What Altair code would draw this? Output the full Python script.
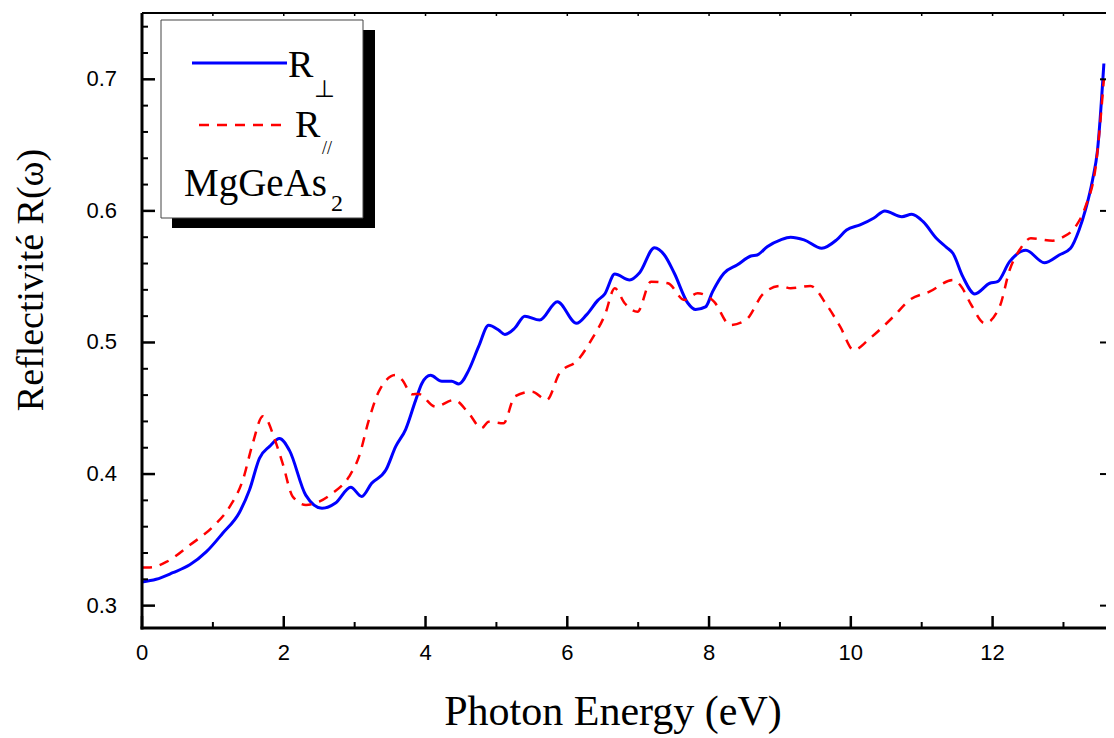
import altair as alt
import pandas as pd

# ---------------- data ----------------
E_perp = [0.0, 0.2, 0.435, 0.674, 0.909, 1.138, 1.376, 1.517, 1.657, 1.80, 1.94, 2.08, 2.31, 2.54, 2.73,
          2.945, 3.10, 3.24, 3.44, 3.58, 3.72, 3.86, 3.95, 4.07, 4.23, 4.37, 4.47, 4.61, 4.75, 4.89,
          5.03, 5.12, 5.26, 5.40, 5.61, 5.86, 6.13, 6.27, 6.43, 6.53, 6.67, 6.88, 7.02, 7.23, 7.37,
          7.51, 7.70, 7.81, 7.95, 8.05, 8.21, 8.40, 8.59, 8.68, 8.82, 9.01, 9.15, 9.34, 9.59, 9.80,
          9.94, 10.13, 10.32, 10.48, 10.72, 10.86, 11.02, 11.21, 11.35, 11.44, 11.58, 11.75, 11.96, 12.07, 12.24,
          12.47, 12.73, 12.94, 13.10, 13.22, 13.31, 13.41, 13.48, 13.57]
R_perp = [0.318, 0.320, 0.325, 0.331, 0.341, 0.355, 0.371, 0.388, 0.412, 0.421, 0.427, 0.418, 0.384, 0.374, 0.378,
          0.390, 0.383, 0.393, 0.403, 0.421, 0.434, 0.456, 0.469, 0.475, 0.4705, 0.4705, 0.4685, 0.479, 0.497, 0.513,
          0.5095, 0.506, 0.511, 0.520, 0.517, 0.531, 0.5146, 0.521, 0.532, 0.537, 0.552, 0.5475, 0.553, 0.572, 0.5665,
          0.5526, 0.530, 0.525, 0.527, 0.5386, 0.5526, 0.559, 0.5657, 0.5665, 0.5728, 0.578, 0.580, 0.578, 0.5716, 0.578,
          0.5855, 0.5893, 0.5944, 0.600, 0.5956, 0.5974, 0.5918, 0.579, 0.5723, 0.5678, 0.550, 0.5369, 0.545, 0.5462, 0.5614,
          0.570, 0.5606, 0.5665, 0.5716, 0.5855, 0.6007, 0.6235, 0.646, 0.712]

E_par = [0.0, 0.11, 0.35, 0.674, 1.0, 1.236, 1.423, 1.563, 1.704, 1.75, 1.868, 1.985, 2.125, 2.313, 2.5,
         2.687, 2.921, 3.06, 3.2, 3.34, 3.577, 3.67, 3.81, 3.90, 4.14, 4.40, 4.61, 4.79, 4.89, 5.10,
         5.26, 5.50, 5.71, 5.89, 6.15, 6.34, 6.53, 6.67, 6.81, 6.99, 7.18, 7.42, 7.65, 7.84, 8.07,
         8.30, 8.52, 8.77, 9.01, 9.15, 9.43, 9.66, 9.85, 10.04, 10.27, 10.60, 10.83, 11.11, 11.44, 11.56,
         11.70, 11.89, 12.10, 12.24, 12.38, 12.54, 12.85, 12.99, 13.17, 13.31, 13.46, 13.57]
R_par = [0.329, 0.329, 0.3334, 0.346, 0.360, 0.375, 0.3955, 0.4234, 0.444, 0.4424, 0.427, 0.408, 0.383, 0.3765, 0.379,
         0.3854, 0.398, 0.413, 0.441, 0.4626, 0.4753, 0.4715, 0.4606, 0.4609, 0.4512, 0.4563, 0.4462, 0.4348, 0.4398, 0.4386,
         0.459, 0.4626, 0.4563, 0.4766, 0.4867, 0.5019, 0.5209, 0.5412, 0.5298, 0.5234, 0.5462, 0.545, 0.5323, 0.5374, 0.531,
         0.5133, 0.5171, 0.5374, 0.543, 0.5412, 0.543, 0.5285, 0.512, 0.4943, 0.5032, 0.5196, 0.5323, 0.5386, 0.5475, 0.5424,
         0.5285, 0.5146, 0.5272, 0.555, 0.5703, 0.5792, 0.5774, 0.580, 0.588, 0.6032, 0.636, 0.700]

x_major = [0, 2, 4, 6, 8, 10, 12]
x_major_labels = ["0", "2", "4", "6", "8", "10", "12"]
x_minor = [1, 3, 5, 7, 9, 11, 13]
x_all = list(range(0, 14))
y_major = [0.3, 0.4, 0.5, 0.6, 0.7]
y_major_labels = ["0.3", "0.4", "0.5", "0.6", "0.7"]
y_minor = [0.32, 0.34, 0.36, 0.38, 0.42, 0.44, 0.46, 0.48, 0.52, 0.54, 0.56, 0.58,
           0.62, 0.64, 0.66, 0.68, 0.72, 0.74]

X_TITLE = "Photon Energy (eV)"
Y_TITLE = "Reflectivité R(ω)"
LEG_R = "R"
LEG_PERP = "⊥"
LEG_PAR = "//"
LEG_MAT = "MgGeAs"
LEG_SUB = "2"

# ---------------- layout ----------------
W, H = 964, 615
XDOM = [0, 13.6]
YDOM = [0.283, 0.7504]
xs = alt.Scale(domain=XDOM, nice=False, zero=False)
ys = alt.Scale(domain=YDOM, nice=False, zero=False)

df_perp = pd.DataFrame({"E": E_perp, "R": R_perp})
df_par = pd.DataFrame({"E": E_par, "R": R_par})
one = pd.DataFrame({"k": [0]})

blue = alt.Chart(df_perp).mark_line(color="#0000FF", strokeWidth=3, interpolate="monotone").encode(
    x=alt.X("E:Q", scale=xs, axis=None),
    y=alt.Y("R:Q", scale=ys, axis=None),
)
red = alt.Chart(df_par).mark_line(color="#FF0000", strokeWidth=2.5, strokeDash=[10, 8],
                                   interpolate="monotone").encode(
    x=alt.X("E:Q", scale=xs, axis=None),
    y=alt.Y("R:Q", scale=ys, axis=None),
)

# frame lines
frame_left = alt.Chart(one).mark_rule(color="black", strokeWidth=3).encode(
    x=alt.value(0), y=alt.value(0), y2=alt.value(H + 1.5))
frame_bottom = alt.Chart(one).mark_rule(color="black", strokeWidth=3).encode(
    x=alt.value(-1.5), x2=alt.value(W), y=alt.value(H))
frame_top = alt.Chart(one).mark_rule(color="black", strokeWidth=2).encode(
    x=alt.value(0), x2=alt.value(W), y=alt.value(0))

def yticks(vals, x1, x2, sw):
    return alt.Chart(pd.DataFrame({"v": vals})).mark_rule(color="black", strokeWidth=sw).encode(
        y=alt.Y("v:Q", scale=ys, axis=None), x=alt.value(x1), x2=alt.value(x2))

def xticks(vals, y1, y2, sw):
    return alt.Chart(pd.DataFrame({"v": vals})).mark_rule(color="black", strokeWidth=sw).encode(
        x=alt.X("v:Q", scale=xs, axis=None), y=alt.value(y1), y2=alt.value(y2))

ticks = [
    yticks(y_major, 0, 13, 2.5),
    yticks(y_minor, 0, 6, 2),
    yticks(y_major, W - 6, W, 2),
    xticks(x_major, H, H - 12, 2.5),
    xticks(x_minor, H, H - 6, 2),
    xticks(x_all, 0, 3, 1.5),
]

# tick labels and axis titles
x_labels = alt.Chart(pd.DataFrame({"v": x_major, "t": x_major_labels})).mark_text(
    align="center", baseline="top", font="Liberation Sans", fontSize=22, color="black").encode(
    x=alt.X("v:Q", scale=xs, axis=None), y=alt.value(H + 15), text="t:N")
y_labels = alt.Chart(pd.DataFrame({"v": y_major, "t": y_major_labels})).mark_text(
    align="right", baseline="middle", font="Liberation Sans", fontSize=22, color="black").encode(
    y=alt.Y("v:Q", scale=ys, axis=None), x=alt.value(-25), text="t:N")
x_title = alt.Chart(one).mark_text(
    align="center", baseline="alphabetic", font="Liberation Serif", fontSize=42, color="black").encode(
    x=alt.value(471), y=alt.value(H + 97), text=alt.value(X_TITLE))
y_title = alt.Chart(one).mark_text(
    align="center", baseline="middle", font="Liberation Serif", fontSize=38, color="black",
    angle=270).encode(
    x=alt.value(-110), y=alt.value(267), text=alt.value(Y_TITLE))

# legend box
shadow = alt.Chart(one).mark_rect(color="black").encode(
    x=alt.value(30), x2=alt.value(233), y=alt.value(17), y2=alt.value(215))
box = alt.Chart(one).mark_rect(fill="white", stroke="#444444", strokeWidth=1).encode(
    x=alt.value(19), x2=alt.value(221), y=alt.value(7), y2=alt.value(205))
leg_blue = alt.Chart(one).mark_rule(color="#0000FF", strokeWidth=3).encode(
    x=alt.value(50), x2=alt.value(145), y=alt.value(50))
leg_red = alt.Chart(one).mark_rule(color="#FF0000", strokeWidth=2.5, strokeDash=[10, 8]).encode(
    x=alt.value(57), x2=alt.value(141), y=alt.value(112))

def txt(s, x, y, size, font="Liberation Serif"):
    return alt.Chart(one).mark_text(align="left", baseline="alphabetic", font=font,
                                    fontSize=size, color="black").encode(
        x=alt.value(x), y=alt.value(y), text=alt.value(s))

legend_texts = [
    txt(LEG_R, 146, 64, 38),
    txt(LEG_PERP, 172, 84, 24, font="DejaVu Sans"),
    txt(LEG_R, 153, 124, 38),
    txt(LEG_PAR, 180, 141, 18),
    txt(LEG_MAT, 42, 183, 39),
    txt(LEG_SUB, 189, 198, 24),
]

chart = alt.layer(
    blue, red, frame_left, frame_bottom, frame_top, *ticks,
    x_labels, y_labels, x_title, y_title,
    shadow, box, leg_blue, leg_red, *legend_texts
).properties(
    width=W, height=H,
    autosize=alt.AutoSizeParams(type="none"),
    padding={"left": 134, "top": 5, "right": 0, "bottom": 110},
).configure_view(stroke=None)

chart.save("out.html", embed_options={"renderer": "svg", "actions": False})
